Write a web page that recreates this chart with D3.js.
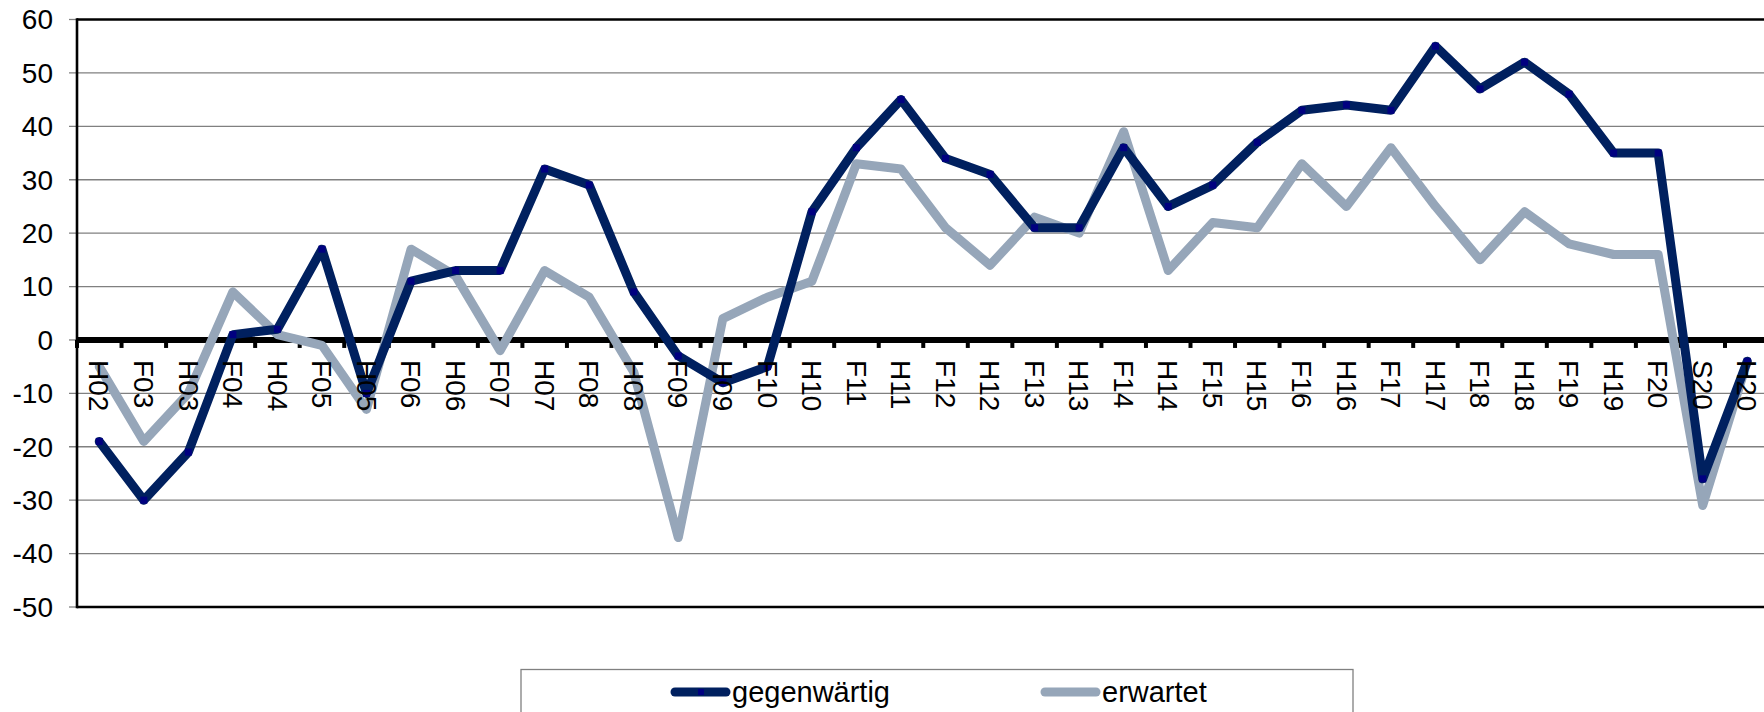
<!DOCTYPE html>
<html lang="de">
<head>
<meta charset="UTF-8">
<title>gegenwärtig / erwartet</title>
<script src="https://cdn.jsdelivr.net/npm/d3@7"></script>
<style>
    body { margin: 0; background: #fff; }
    svg { display: block; font-family: "Liberation Sans", Arial, sans-serif; }
    .grid line { stroke: #808080; stroke-width: 1.3px; }
    .lbl { font-size: 28px; fill: #000; }
</style>
</head>
<body>
<svg id="chart" width="1764" height="712"></svg>
<script>
// data
const categories = ["H02","F03","H03","F04","H04","F05","H05","F06","H06","F07","H07","F08","H08",
    "F09","H09","F10","H10","F11","H11","F12","H12","F13","H13","F14","H14","F15","H15","F16",
    "H16","F17","H17","F18","H18","F19","H19","F20","S20","H20"];
const gegenwaertig = [-19,-30,-21,1,2,17,-10,11,13,13,32,29,9,-3,-8,-5,24,36,45,34,31,21,21,36,
    25,29,37,43,44,43,55,47,52,46,35,35,-26,-4];
const erwartet = [-5,-19,-10,9,1,-1,-13,17,12,-2,13,8,-6,-37,4,8,11,33,32,21,14,23,20,39,
    13,22,21,33,25,36,25,15,24,18,16,16,-31,-4];
const yTicks = [60,50,40,30,20,10,0,-10,-20,-30,-40,-50];
const seriesNames = ["gegenwärtig", "erwartet"];
const seriesColors = ["#00205f", "#96a6b9"];

const plotLeft = 77, plotTop = 19.5, plotBottom = 607;
const band = 44.54;
const plotRight = plotLeft + band * categories.length;

const svg = d3.select("#chart");

const x = d3.scaleBand().domain(categories).range([plotLeft, plotRight]).padding(0);
const y = d3.scaleLinear().domain([-50, 60]).range([plotBottom, plotTop]);
const cx = d => x(d) + x.bandwidth() / 2;

// gridlines (with short outward ticks on the left)
const grid = svg.append("g").attr("class", "grid");
grid.selectAll("line.g")
    .data(yTicks.filter(t => t !== 0 && t !== 60 && t !== -50))
    .enter().append("line")
    .attr("x1", plotLeft - 8).attr("x2", 1764)
    .attr("y1", d => y(d)).attr("y2", d => y(d));
grid.selectAll("line.edge")
    .data([60, -50, 0])
    .enter().append("line")
    .attr("x1", plotLeft - 8).attr("x2", plotLeft)
    .attr("y1", d => y(d)).attr("y2", d => y(d));

// plot border top/bottom/left
svg.append("line").attr("x1", plotLeft).attr("x2", 1764).attr("y1", y(60)).attr("y2", y(60))
    .attr("stroke", "#000").attr("stroke-width", 2.6);
svg.append("line").attr("x1", plotLeft).attr("x2", 1764).attr("y1", y(-50)).attr("y2", y(-50))
    .attr("stroke", "#000").attr("stroke-width", 2.6);
svg.append("line").attr("x1", plotLeft).attr("x2", plotLeft).attr("y1", y(60) - 1.3).attr("y2", y(-50) + 1.3)
    .attr("stroke", "#000").attr("stroke-width", 2.6);

// y labels
svg.append("g").selectAll("text")
    .data(yTicks)
    .enter().append("text")
    .attr("class", "lbl")
    .attr("x", 53)
    .attr("y", d => y(d))
    .attr("dy", "0.35em")
    .attr("text-anchor", "end")
    .text(d => d);

// zero line with category ticks
svg.append("line").attr("x1", plotLeft).attr("x2", 1764).attr("y1", y(0)).attr("y2", y(0))
    .attr("stroke", "#000").attr("stroke-width", 6);
svg.append("g").selectAll("line")
    .data(categories.concat([null]))
    .enter().append("line")
    .attr("x1", (d, i) => plotLeft + i * x.bandwidth())
    .attr("x2", (d, i) => plotLeft + i * x.bandwidth())
    .attr("y1", y(0)).attr("y2", y(0) + 8)
    .attr("stroke", "#000").attr("stroke-width", 4);

// series
const line = d3.line().x((d, i) => cx(categories[i])).y(d => y(d));

svg.append("path").datum(erwartet)
    .attr("d", line).attr("fill", "none")
    .attr("stroke", seriesColors[1]).attr("stroke-width", 9)
    .attr("stroke-linejoin", "round").attr("stroke-linecap", "round");

svg.append("path").datum(gegenwaertig)
    .attr("d", line).attr("fill", "none")
    .attr("stroke", seriesColors[0]).attr("stroke-width", 9)
    .attr("stroke-linejoin", "round").attr("stroke-linecap", "round");

svg.append("g").selectAll("rect")
    .data(gegenwaertig)
    .enter().append("rect")
    .attr("x", (d, i) => cx(categories[i]) - 3.5)
    .attr("y", d => y(d) - 3.5)
    .attr("width", 7).attr("height", 7)
    .attr("fill", "#000080");

// category labels, rotated
svg.append("g").selectAll("text")
    .data(categories)
    .enter().append("text")
    .attr("class", "lbl")
    .attr("transform", d => `translate(${cx(d)},360) rotate(90)`)
    .attr("dy", "0.35em")
    .text(d => d);

// legend
const legend = svg.append("g");
legend.append("rect")
    .attr("x", 521).attr("y", 669.5).attr("width", 832).attr("height", 80)
    .attr("fill", "#fff").attr("stroke", "#808080").attr("stroke-width", 1.3);

const entryX = [671, 1041];
seriesNames.forEach((name, i) => {
    const g = legend.append("g").attr("transform", `translate(${entryX[i]},692)`);
    g.append("line").attr("x1", 4).attr("x2", 55).attr("y1", 0).attr("y2", 0)
        .attr("stroke", seriesColors[i]).attr("stroke-width", 9)
        .attr("stroke-linecap", "round");
    if (i === 0) {
        g.append("rect").attr("x", 27).attr("y", -3).attr("width", 6).attr("height", 6)
            .attr("fill", "#000080");
    }
    g.append("text").attr("class", "lbl").attr("x", 61).attr("dy", "0.35em")
        .style("font-size", "29px").text(name);
});
</script>
</body>
</html>
